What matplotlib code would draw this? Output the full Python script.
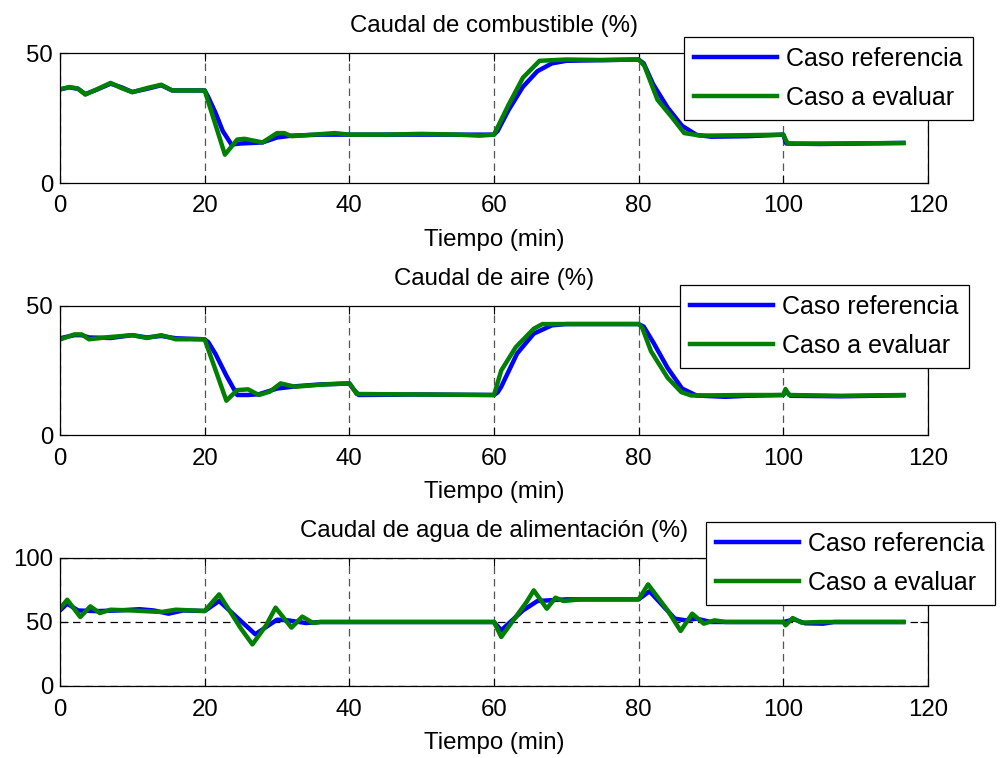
import numpy as np
import matplotlib
matplotlib.use('Agg')
import matplotlib.pyplot as plt

# Datos (tiempo en min, caudal en %)
# Caudal de combustible
t_comb_ref = [0, 1.3, 2.5, 3.5, 5, 7, 8.5, 10, 12, 14, 15.5, 20, 20.5, 21.5, 22.5, 23.7, 25, 28, 30, 32,
              36, 40, 50, 60, 60.5, 62, 64, 66, 68, 70, 80, 80.7, 82, 84, 86, 88, 90, 95, 100, 100.4, 105, 116.6]
comb_ref = [36, 36.8, 36.2, 34.2, 35.8, 38.2, 36.8, 35, 36.2, 37.6, 35.6, 35.6, 33, 27, 20, 14.8, 15.2, 15.6, 17.5, 18.2,
            18.6, 18.6, 18.6, 18.6, 20, 28, 37, 43, 46, 47, 47.5, 46, 38, 29, 22, 18.5, 17.8, 18, 18.6, 15.2, 15, 15.4]
t_comb_eval = [0, 1.3, 2.5, 3.5, 5, 7, 8.5, 10, 12, 14, 15.5, 20, 22.8, 24.5, 25.5, 28, 30, 31, 32, 35, 38, 40,
               45, 50, 55, 58, 60, 62, 64, 66.3, 70, 75, 80, 80.8, 82.6, 84.5, 86.3, 88.6, 95, 100, 100.6, 108, 116.6]
comb_eval = [36, 36.9, 36.3, 34, 35.9, 38.5, 36.5, 34.9, 36.5, 37.8, 35.6, 35.6, 10.9, 16.7, 17, 15.6, 19.2, 19.2, 18, 18.6, 19.2, 18.6,
             18.6, 18.9, 18.6, 18.2, 18.6, 30, 40.5, 47, 47.5, 47.3, 47.5, 45, 32, 25.6, 19.2, 18.2, 18.4, 18.6, 15.1, 15.2, 15.4]

# Caudal de aire
t_aire_ref = [0, 2, 3, 4, 7, 10, 12, 14, 16, 20, 20.5, 21.5, 23, 24.5, 26, 27.5, 30, 33, 36, 40, 40.5, 41.3,
              50, 60, 60.5, 61, 63.2, 65.5, 68, 70, 80, 80.7, 82, 84, 86, 88, 92, 95, 100, 100.3, 101, 108, 116.6]
aire_ref = [37.5, 38.7, 38.7, 37.8, 37.6, 38.7, 37.8, 38.4, 37.5, 37.1, 36, 31.4, 23, 15.5, 15.5, 15.8, 18, 19, 19.6, 20, 18, 15.5,
            15.7, 15.5, 16.5, 18.7, 31.6, 39.3, 42.5, 43, 43, 42, 36, 26, 18, 15.3, 14.8, 15.2, 15.5, 17, 15.2, 15, 15.4]
t_aire_eval = [0, 2, 3, 4, 7, 10, 12, 14, 16, 20, 23, 24.5, 26, 27.5, 29, 30.5, 32.5, 36, 40, 40.3, 41,
               50, 60, 61, 63, 65.5, 66.7, 70, 80, 80.5, 81.7, 84, 85.9, 87.3, 95, 100, 100.3, 100.8, 108, 116.6]
aire_eval = [37, 39, 39, 37.1, 38, 38.7, 37.6, 38.7, 37.1, 37.1, 13.3, 17.4, 17.7, 15.5, 16.8, 20, 18.7, 19.5, 20, 19, 15.9,
             15.7, 15.5, 25, 34, 41.2, 43, 43, 43, 41.5, 32.5, 22.2, 16.6, 15.3, 15.5, 15.5, 17.8, 15.5, 15.2, 15.5]

# Caudal de agua de alimentacion
t_agua_ref = [0, 1, 2.5, 5, 8, 11, 13, 15, 17, 20, 22, 27, 30, 31.5, 34, 36, 40, 50, 60, 61, 64, 66, 70, 80,
              81.5, 85, 86.5, 88, 90, 100, 101.5, 103, 105.5, 107, 116.6]
agua_ref = [59, 64.3, 59, 58.5, 59, 60, 59, 56.5, 59, 58.6, 66.4, 40.4, 51.8, 51.3, 49.2, 50, 50, 50, 50, 43.5, 59, 66.4, 67.7, 67.7,
            74, 52.6, 51.3, 52.6, 50, 50, 52, 49, 48.7, 50, 50]
t_agua_eval = [0, 1, 2.8, 4.2, 5.5, 7, 10, 14, 16, 20, 22, 25, 26.6, 28.5, 29.8, 32, 33.5, 35, 36, 40, 50, 60,
               61, 63, 64.5, 65.5, 67.3, 68.5, 69.6, 72, 80, 81.3, 84, 85.8, 87.4, 89, 90.5, 92, 100, 100.3, 101.3,
               102.5, 105, 116.6]
agua_eval = [60.4, 67.4, 53.9, 62.2, 57, 59.6, 59, 57.8, 59.6, 58.6, 71.6, 45, 32.5, 47.4, 61.2, 45.6, 54.2, 49.2, 50, 50, 50, 50,
             38.3, 53.9, 65.6, 74.7, 60.4, 69, 66.4, 67.7, 67.7, 79.4, 59.1, 43, 56.5, 48.7, 51.3, 50, 50, 47.4, 53.1,
             49.5, 50, 50]

titulos = ['Caudal de combustible (%)', 'Caudal de aire (%)', 'Caudal de agua de alimentación (%)']
etiquetas = ['Caso referencia', 'Caso a evaluar']
ylims = [50, 50, 100]
yticks = [[0, 50], [0, 50], [0, 50, 100]]
xticks = [0, 20, 40, 60, 80, 100, 120]

plt.rcParams['font.family'] = ['Liberation Sans', 'DejaVu Sans']
fs = 17.3

W, H = 1001, 758
fig = plt.figure(figsize=(W / 100, H / 100), dpi=100)

# posiciones en pixeles (izq, arriba, abajo)
cajas = [(60, 53, 183), (60, 306, 435), (60, 558, 686)]
legs = [(684, 37), (680, 285), (706, 522)]
series = [(t_comb_ref, comb_ref, t_comb_eval, comb_eval),
          (t_aire_ref, aire_ref, t_aire_eval, aire_eval),
          (t_agua_ref, agua_ref, t_agua_eval, agua_eval)]

for i in range(3):
    x0, top, bot = cajas[i]
    ax = fig.add_axes([x0 / W, 1 - bot / H, (928 - x0) / W, (bot - top) / H])
    tr, yr, te, ye = series[i]
    l1, = ax.plot(tr, yr, color='#0000ff', lw=3.2)
    l2, = ax.plot(te, ye, color='#008000', lw=3.2)
    ax.set_xlim(0, 120)
    ax.set_ylim(0, ylims[i])
    ax.set_xticks(xticks)
    ax.set_yticks(yticks[i])
    ax.tick_params(direction='in', top=True, right=True, length=6, width=0.8, labelsize=fs)
    ax.tick_params(axis='x', pad=9)
    ax.tick_params(axis='y', pad=5)
    ax.grid(True, axis='x', color='#555555', linestyle=(0, (6, 4)), lw=0.9)
    if i == 2:
        ax.grid(True, axis='y', color='black', linestyle=(0, (6, 4)), lw=0.9)
    ax.set_axisbelow(True)
    for s in ax.spines.values():
        s.set_linewidth(0.9)
    ax.set_title(titulos[i], fontsize=fs, pad=15)
    ax.set_xlabel('Tiempo (min)', fontsize=fs, labelpad=8)

    lx, ly = legs[i]
    leg = ax.legend([l1, l2], etiquetas, loc='upper left',
                    bbox_to_anchor=(lx / W, 1 - ly / H), bbox_transform=fig.transFigure,
                    fontsize=18, handlelength=3.3, handletextpad=0.4, borderpad=0.4,
                    labelspacing=0.6, borderaxespad=0, fancybox=False, framealpha=1)
    leg.get_frame().set_edgecolor('black')
    leg.get_frame().set_linewidth(0.9)
    for ln in leg.get_lines():
        ln.set_linewidth(3.2)

fig.savefig('out.png', dpi=100)
